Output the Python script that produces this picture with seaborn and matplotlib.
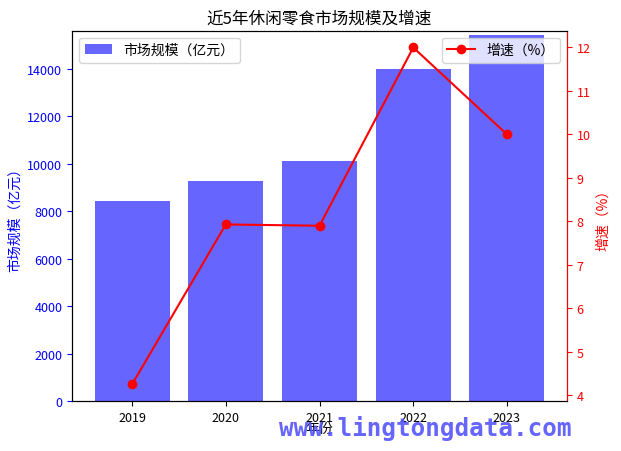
import matplotlib
matplotlib.use("Agg")
import matplotlib.pyplot as plt
import seaborn as sns
import pandas as pd

plt.rcParams["font.family"] = ["Noto Sans CJK SC", "DejaVu Sans"]
plt.rcParams["axes.unicode_minus"] = False

years = ["2019", "2020", "2021", "2022", "2023"]
market_size = [8430, 9270, 10100, 14000, 15400]
growth = [4.25, 7.93, 7.90, 12.0, 10.0]

df = pd.DataFrame({"year": years, "size": market_size, "growth": growth})

fig, ax1 = plt.subplots(figsize=(6.21, 4.52), dpi=100)
sns.barplot(data=df, x="year", y="size", color="#6666ff", saturation=1, width=0.8,
            ax=ax1, label="市场规模（亿元）")
ax1.set_ylim(0, 15600)
ax1.set_xlabel("年份", fontsize=10, labelpad=-2)
ax1.set_ylabel("市场规模（亿元）", color="blue")
ax1.tick_params(axis="y", colors="blue", labelsize=9)
ax1.tick_params(axis="x", labelsize=9)
ax1.legend(loc="upper left")

ax2 = ax1.twinx()
ax2.plot(range(len(years)), df["growth"], color="red", marker="o", label="增速（%）")
ax2.set_ylabel("增速（%）", color="red")
ax2.tick_params(axis="y", colors="red", labelsize=9)
ax2.spines["right"].set_color("red")
ax2.legend(loc="upper right")

ax1.set_title("近5年休闲零食市场规模及增速")
fig.text(0.45, 0.035, "www.lingtongdata.com", fontsize=17.5, fontweight="bold",
         family="DejaVu Sans Mono", color="#5555ff", alpha=0.9)

fig.subplots_adjust(left=0.116, right=0.913, top=0.93, bottom=0.11)
fig.savefig("out.png", dpi=100)
